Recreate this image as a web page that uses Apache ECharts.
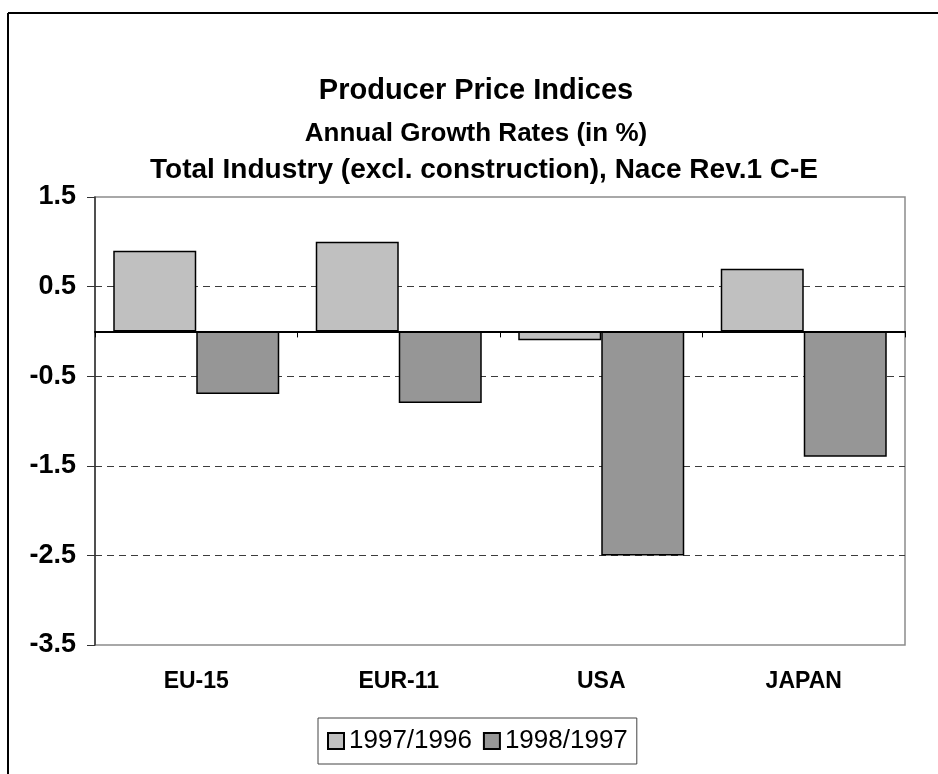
<!DOCTYPE html>
<html>
<head>
    <meta charset="utf-8" />
    <title>Producer Price Indices</title>
    <script src="https://cdn.jsdelivr.net/npm/echarts@6/dist/echarts.min.js"></script>
    <style>
        html, body { margin: 0; padding: 0; background: #fff; }
        #main { width: 938px; height: 774px; }
    </style>
</head>
<body>
    <div id="main"></div>
    <script type="text/javascript">
        var categories = ['EU-15', 'EUR-11', 'USA', 'JAPAN'];
        var seriesNames = ['1997/1996', '1998/1997'];
        var growth9796 = [0.9, 1.0, -0.1, 0.7];
        var growth9897 = [-0.7, -0.8, -2.5, -1.4];

        var font = 'Arial, "Liberation Sans", Helvetica, sans-serif';

        var myChart = echarts.init(document.getElementById('main'));
        var option = {
            backgroundColor: '#fff',
            animation: false,
            textStyle: { fontFamily: font },
            title: [
                { text: 'Producer Price Indices', left: 471, top: 71, textAlign: 'center',
                  textStyle: { fontSize: 29, fontWeight: 'bold', color: '#000', fontFamily: font } },
                { text: 'Annual Growth Rates (in %)', left: 471, top: 116, textAlign: 'center',
                  textStyle: { fontSize: 26, fontWeight: 'bold', color: '#000', fontFamily: font } },
                { text: 'Total Industry (excl. construction), Nace Rev.1 C-E', left: 479, top: 151, textAlign: 'center',
                  textStyle: { fontSize: 28, fontWeight: 'bold', color: '#000', fontFamily: font } }
            ],
            graphic: [
                { type: 'line', shape: { x1: 8, y1: 13, x2: 938, y2: 13 }, style: { stroke: '#000', lineWidth: 2 } },
                { type: 'line', shape: { x1: 8, y1: 13, x2: 8, y2: 774 }, style: { stroke: '#000', lineWidth: 2 } }
            ],
            legend: {
                data: seriesNames,
                left: 318,
                top: 718,
                orient: 'horizontal',
                icon: 'rect',
                itemWidth: 16,
                itemHeight: 16,
                itemGap: 11,
                padding: [10, 9],
                borderColor: '#444',
                borderWidth: 1,
                textStyle: { fontSize: 26, color: '#000', fontFamily: font }
            },
            grid: {
                left: 95,
                top: 197,
                right: 33,
                bottom: 129,
                show: true,
                borderColor: '#8c8c8c',
                borderWidth: 1.5,
                containLabel: false
            },
            xAxis: [
                {
                    type: 'category',
                    data: categories,
                    position: 'bottom',
                    axisLine: { show: false, onZero: false },
                    axisTick: { show: false },
                    axisLabel: { margin: 25, fontSize: 23, fontWeight: 'bold', color: '#000', fontFamily: font },
                    splitLine: { show: false }
                },
                {
                    type: 'category',
                    data: categories,
                    position: 'top',
                    axisLine: { show: true, onZero: true, lineStyle: { color: '#000', width: 2 } },
                    axisTick: { show: true, inside: true, length: 6, lineStyle: { color: '#000', width: 1 } },
                    axisLabel: { show: false },
                    splitLine: { show: false }
                }
            ],
            yAxis: {
                type: 'value',
                min: -3.5,
                max: 1.5,
                interval: 1,
                axisLine: { show: true, lineStyle: { color: '#333', width: 1.5 } },
                axisTick: { show: true, length: 8, lineStyle: { color: '#333', width: 1 } },
                axisLabel: {
                    margin: 19, fontSize: 27, fontWeight: 'bold', color: '#000', fontFamily: font,
                    formatter: function (v) { return v.toFixed(1); }
                },
                splitLine: {
                    show: true,
                    showMinLine: false,
                    showMaxLine: false,
                    lineStyle: { color: '#3c3c3c', width: 1, type: [7, 5] }
                }
            },
            series: [
                {
                    name: seriesNames[0],
                    type: 'bar',
                    xAxisIndex: 0,
                    barWidth: 83,
                    barGap: '0%',
                    itemStyle: { color: '#c0c0c0', borderColor: '#000', borderWidth: 1.5 },
                    data: growth9796
                },
                {
                    name: seriesNames[1],
                    type: 'bar',
                    xAxisIndex: 0,
                    barWidth: 83,
                    barGap: '0%',
                    itemStyle: { color: '#969696', borderColor: '#000', borderWidth: 1.5 },
                    data: growth9897
                }
            ]
        };
        myChart.setOption(option);
    </script>
</body>
</html>
